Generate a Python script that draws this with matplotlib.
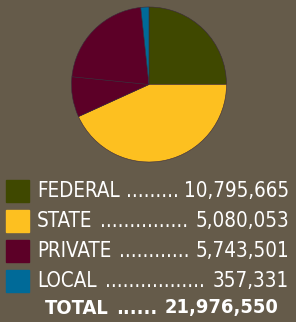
import matplotlib.pyplot as plt
from matplotlib.patches import Rectangle
from matplotlib import font_manager
from matplotlib.font_manager import FontProperties

# legend categories and totals as printed
categories = ["FEDERAL", "STATE", "PRIVATE", "LOCAL"]
amounts = ["10,795,665", "5,080,053", "5,743,501", "357,331"]
total_name = "TOTAL"
total_amount = "21,976,550"

# wedge shares as drawn in the pie (percent)
pie_shares = [25.0, 43.2, 8.4, 21.7, 1.7]
pie_colors = ["#3f4800", "#fdc020", "#5c0027", "#5c0027", "#006a98"]
box_colors = ["#3f4800", "#fdc020", "#5c0027", "#006a98"]

bg = "#655b4a"


# look for a narrow face, the printed labels are condensed
def pick_font(bold=False, size=14.8):
    best = None
    for f in font_manager.fontManager.ttflist:
        n = f.fname.lower()
        if ("narrow" in n or "condensed" in n) and ("liberation" in n or "dejavusans" in n):
            isbold = f.weight in ("bold", 700) or "bold" in n
            if isbold == bold and "italic" not in n and "oblique" not in n:
                if best is None or "liberation" in n:
                    best = f.fname
    if best:
        return FontProperties(fname=best, size=size)
    return FontProperties(family="Liberation Sans", size=size - 1.3,
                          weight="bold" if bold else "normal")


fp = pick_font()
fpb = pick_font(True, 14.4)

W, H = 296, 322
fig = plt.figure(figsize=(W / 100, H / 100), dpi=100, facecolor=bg)

# pie, centre ~ (149, 84), radius ~ 78 px
cx, cy, r = 149, 84.5, 77.5
ax = fig.add_axes([(cx - r) / W, 1 - (cy + r) / H, 2 * r / W, 2 * r / H])
ax.pie(pie_shares, colors=pie_colors, startangle=90, counterclock=False,
       wedgeprops=dict(linewidth=0.4, edgecolor="#3a2a3a"))
ax.set_xlim(-1, 1)
ax.set_ylim(-1, 1)
ax.set_aspect("equal")
ax.axis("off")

# legend drawn in pixel coords
lg = fig.add_axes([0, 0, 1, 1])
lg.set_xlim(0, W)
lg.set_ylim(H, 0)
lg.axis("off")
rend = fig.canvas.get_renderer()


def width(t):
    return t.get_window_extent(rend).width


def dotted_row(x0, x1, y, name, amount, props):
    t1 = lg.text(x0, y, name, color="white", fontproperties=props,
                 ha="left", va="center")
    t2 = lg.text(x1, y, amount, color="white", fontproperties=props,
                 ha="right", va="center")
    probe = lg.text(0, 0, "." * 20, fontproperties=props)
    dw = width(probe) / 20
    sp = lg.text(0, 0, " ", fontproperties=props)
    sw = width(sp)
    probe.remove()
    sp.remove()
    a = x0 + width(t1) + sw
    b = x1 - width(t2) - sw * 0.8
    n = max(int((b - a) // dw), 3)
    lg.text((a + b) / 2, y, "." * n, color="white", fontproperties=props,
            ha="center", va="center")


for i, (c, a, col) in enumerate(zip(categories, amounts, box_colors)):
    y = 191 + 30 * i
    lg.add_patch(Rectangle((6, y - 11.5), 23, 22, color=col))
    dotted_row(37, 289, y, c, a, fp)

dotted_row(45, 278, 308, total_name, total_amount, fpb)

fig.savefig("out.png", dpi=100, facecolor=bg)
